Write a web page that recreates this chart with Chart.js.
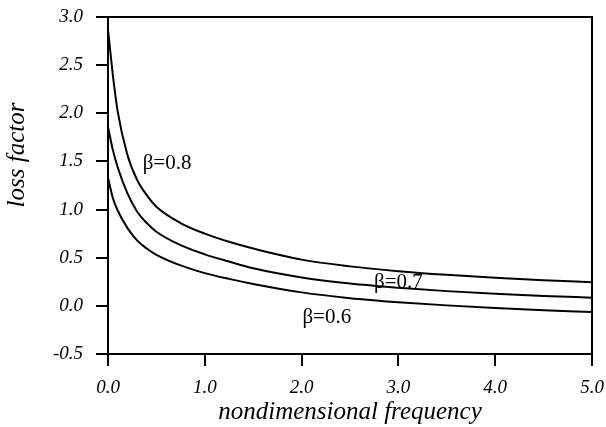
<!DOCTYPE html>
<html>
<head>
<meta charset="utf-8">
<script src="https://cdn.jsdelivr.net/npm/chart.js@4"></script>
<style>
  html,body{margin:0;padding:0;background:#fff}
  #wrap{width:606px;height:427px;position:relative}
</style>
</head>
<body>
<div id="wrap"><canvas id="lossChart"></canvas></div>
<script>
// nondimensional frequency samples and loss factor for each beta
const freq     = [0, 0.05, 0.1, 0.2, 0.3, 0.4, 0.5, 0.75, 1.0, 1.25, 1.5, 2.0, 2.5, 3.0, 3.5, 4.0, 4.5, 5.0];
const loss_b08 = [2.87, 2.40, 2.02, 1.57, 1.31, 1.15, 1.03, 0.86, 0.75, 0.665, 0.595, 0.48, 0.41, 0.36, 0.322, 0.291, 0.266, 0.245];
const loss_b07 = [1.86, 1.62, 1.44, 1.17, 0.98, 0.86, 0.77, 0.63, 0.535, 0.46, 0.39, 0.295, 0.232, 0.188, 0.153, 0.125, 0.103, 0.085];
const loss_b06 = [1.33, 1.12, 0.99, 0.81, 0.68, 0.595, 0.53, 0.42, 0.34, 0.28, 0.228, 0.14, 0.08, 0.038, 0.005, -0.022, -0.045, -0.065];
const seriesNames = ['β=0.8', 'β=0.7', 'β=0.6'];
const xTicks = [0, 1, 2, 3, 4, 5];
const yTicks = [-0.5, 0, 0.5, 1.0, 1.5, 2.0, 2.5, 3.0];

const SERIF = '"Liberation Serif", "Times New Roman", serif';

function pts(ys){ return freq.map((f,i)=>({x:f, y:ys[i]})); }

// where each curve gets its beta label (data coords)
const curveLabels = [
  {text:seriesNames[0], x:0.61, y:1.48},
  {text:seriesNames[1], x:3.0,  y:0.24},
  {text:seriesNames[2], x:2.26, y:-0.12}
];

// box around the plot, tick labels, axis titles and curve labels
const framePlugin = {
  id:'frame',
  afterDraw(chart){
    const {ctx, chartArea:a, scales:{x, y}} = chart;
    ctx.save();
    ctx.strokeStyle='#000'; ctx.lineWidth=2;
    ctx.strokeRect(a.left, a.top, a.right-a.left, a.bottom-a.top);
    ctx.fillStyle='#000';
    ctx.textBaseline='middle';

    ctx.font='italic 19px '+SERIF;
    ctx.textAlign='center';
    xTicks.forEach(v=>ctx.fillText(v.toFixed(1), x.getPixelForValue(v), a.bottom+34));
    ctx.textAlign='right';
    yTicks.forEach(v=>ctx.fillText(v.toFixed(1), a.left-25, y.getPixelForValue(v)));

    ctx.textAlign='center';
    ctx.font='italic 25px '+SERIF;
    ctx.fillText('nondimensional frequency', (a.left+a.right)/2, 412);
    ctx.save();
    ctx.translate(17,155); ctx.rotate(-Math.PI/2);
    ctx.fillText('loss factor',0,0);
    ctx.restore();

    ctx.font='21px '+SERIF;
    curveLabels.forEach(l=>{
      ctx.fillText(l.text, x.getPixelForValue(l.x), y.getPixelForValue(l.y));
    });
    ctx.restore();
  }
};

const line = (data)=>({data, borderColor:'#000', borderWidth:2, pointRadius:0, fill:false, cubicInterpolationMode:'monotone'});

new Chart(document.getElementById('lossChart'), {
  type:'line',
  data:{ datasets:[ line(pts(loss_b08)), line(pts(loss_b07)), line(pts(loss_b06)) ] },
  options:{
    responsive:true, maintainAspectRatio:false, animation:false,
    layout:{ padding:{top:17, right:14, left:0, bottom:0} },
    plugins:{ legend:{display:false}, tooltip:{enabled:false} },
    scales:{
      x:{
        type:'linear', min:0, max:5,
        afterBuildTicks(s){ s.ticks = xTicks.map(v=>({value:v})); },
        afterFit(s){ s.height = 73; },
        border:{display:false},
        grid:{drawOnChartArea:false, drawTicks:true, tickLength:12, color:'#000', lineWidth:2},
        ticks:{ display:false }
      },
      y:{
        type:'linear', min:-0.5, max:3.0,
        afterBuildTicks(s){ s.ticks = yTicks.map(v=>({value:v})); },
        afterFit(s){ s.width = 108; },
        border:{display:false},
        grid:{drawOnChartArea:false, drawTicks:true, tickLength:12, color:'#000', lineWidth:2},
        ticks:{ display:false }
      }
    }
  },
  plugins:[framePlugin]
});
</script>
</body>
</html>
